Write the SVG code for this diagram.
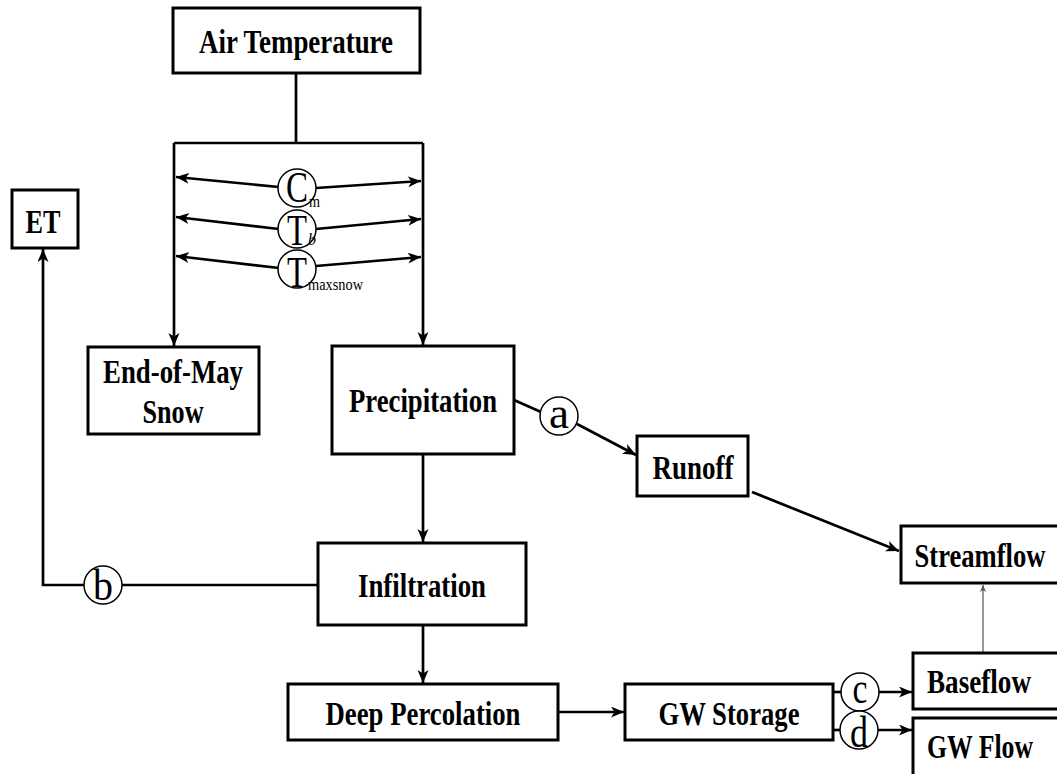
<svg xmlns="http://www.w3.org/2000/svg" width="1057" height="774" viewBox="0 0 1057 774">
<style>
.box{fill:#fff;stroke:#000;stroke-width:3}
.lbl{font-family:"Liberation Serif","Times New Roman",serif;font-weight:bold;font-size:34px;fill:#000;text-anchor:middle}
.ln{fill:none;stroke:#000;stroke-width:2.7}
.arr{marker-end:url(#ah)}
.circ{fill:#fff;stroke:#000;stroke-width:1.5}
.sym{font-family:"Liberation Serif","Times New Roman",serif;font-size:44px;fill:#000;text-anchor:middle}
.sub{font-family:"Liberation Serif","Times New Roman",serif;font-size:16px;fill:#000}
</style>
<defs>
<marker id="ah" markerUnits="userSpaceOnUse" markerWidth="14" markerHeight="12" refX="13" refY="5.5" orient="auto">
<path d="M0,0 L13,5.5 L0,11 L3.5,5.5 z" fill="#000"/>
</marker>
<marker id="ahs" markerUnits="userSpaceOnUse" markerWidth="8" markerHeight="7" refX="7" refY="3" orient="auto">
<path d="M0,0 L7,3 L0,6 L2,3 z" fill="#555"/>
</marker>
</defs>

<g id="connectors">
<path class="ln" d="M296,73 V143 M174,143 H423"/>
<path class="ln arr" d="M174,143 V346"/>
<path class="ln arr" d="M423,143 V345"/>
<path class="ln arr" d="M279,187 L176,177"/>
<path class="ln arr" d="M316,188 L421,181"/>
<path class="ln arr" d="M279,229 L176,217"/>
<path class="ln arr" d="M316,229 L421,219"/>
<path class="ln arr" d="M279,268 L176,256"/>
<path class="ln arr" d="M316,266 L421,257"/>
<path class="ln" d="M514,400 L541,412"/>
<path class="ln arr" d="M577,424 L636,455"/>
<path class="ln arr" d="M752,492 L899,551"/>
<path class="ln arr" d="M423,454 V542"/>
<path class="ln arr" d="M423,625 V683"/>
<path class="ln arr" d="M558,712 H624"/>
<path class="ln arr" d="M84,585 H43 V249"/>
<path class="ln" d="M122,585 H318"/>
<path class="ln" d="M833,692 H841"/>
<path class="ln arr" d="M879,692 H912"/>
<path class="ln" d="M833,730 H840"/>
<path class="ln arr" d="M878,730 H912"/>
<path d="M983,652 V585" fill="none" stroke="#555" stroke-width="1.2" marker-end="url(#ahs)"/>
</g>

<g id="labels">
<circle class="circ" cx="297" cy="188" r="19"/>
<circle class="circ" cx="297" cy="229" r="19"/>
<circle class="circ" cx="297" cy="269" r="19"/>
<text class="sym" x="297" y="202" textLength="22" lengthAdjust="spacingAndGlyphs">C</text>
<text class="sub" x="309" y="207" textLength="11" lengthAdjust="spacingAndGlyphs">m</text>
<text class="sym" x="297" y="245" textLength="20" lengthAdjust="spacingAndGlyphs">T</text>
<text class="sub" x="308" y="245" font-style="italic" textLength="8" lengthAdjust="spacingAndGlyphs">b</text>
<text class="sym" x="297" y="287" textLength="20" lengthAdjust="spacingAndGlyphs">T</text>
<text class="sub" x="308" y="290" textLength="55" lengthAdjust="spacingAndGlyphs">maxsnow</text>
<circle class="circ" cx="559" cy="416" r="19"/>
<text class="sym" x="559" y="428" font-size="48" textLength="20" lengthAdjust="spacingAndGlyphs">a</text>
<circle class="circ" cx="103" cy="585" r="19"/>
<text class="sym" x="103" y="600" textLength="20" lengthAdjust="spacingAndGlyphs">b</text>
<circle class="circ" cx="860" cy="692" r="19"/>
<text class="sym" x="860" y="703" font-size="48" textLength="15" lengthAdjust="spacingAndGlyphs">c</text>
<circle class="circ" cx="859" cy="730" r="19"/>
<text class="sym" x="859" y="747" textLength="18" lengthAdjust="spacingAndGlyphs">d</text>
</g>

<g id="air-temperature">
<rect class="box" x="173" y="8" width="247" height="65"/>
<text class="lbl" x="296" y="53" textLength="194" lengthAdjust="spacingAndGlyphs">Air Temperature</text>
</g>
<g id="et">
<rect class="box" x="12" y="190" width="66" height="58"/>
<text class="lbl" x="43" y="233" textLength="35" lengthAdjust="spacingAndGlyphs">ET</text>
</g>
<g id="end-of-may-snow">
<rect class="box" x="88" y="347" width="171" height="87"/>
<text class="lbl" x="173" y="383" textLength="140" lengthAdjust="spacingAndGlyphs">End-of-May</text>
<text class="lbl" x="173" y="423" textLength="61" lengthAdjust="spacingAndGlyphs">Snow</text>
</g>
<g id="precipitation">
<rect class="box" x="332" y="346" width="182" height="108"/>
<text class="lbl" x="423" y="412" textLength="148" lengthAdjust="spacingAndGlyphs">Precipitation</text>
</g>
<g id="runoff">
<rect class="box" x="637" y="436" width="111" height="60"/>
<text class="lbl" x="693" y="479" textLength="81" lengthAdjust="spacingAndGlyphs">Runoff</text>
</g>
<g id="streamflow">
<rect class="box" x="901" y="526" width="165" height="57"/>
<text class="lbl" x="980" y="567" textLength="131" lengthAdjust="spacingAndGlyphs">Streamflow</text>
</g>
<g id="infiltration">
<rect class="box" x="318" y="543" width="208" height="82"/>
<text class="lbl" x="422" y="597" textLength="128" lengthAdjust="spacingAndGlyphs">Infiltration</text>
</g>
<g id="deep-percolation">
<rect class="box" x="288" y="684" width="270" height="56"/>
<text class="lbl" x="423" y="725" textLength="195" lengthAdjust="spacingAndGlyphs">Deep Percolation</text>
</g>
<g id="gw-storage">
<rect class="box" x="625" y="684" width="208" height="56"/>
<text class="lbl" x="729" y="725" textLength="141" lengthAdjust="spacingAndGlyphs">GW Storage</text>
</g>
<g id="baseflow">
<rect class="box" x="913" y="653" width="153" height="56"/>
<text class="lbl" x="979" y="693" textLength="104" lengthAdjust="spacingAndGlyphs">Baseflow</text>
</g>
<g id="gw-flow">
<rect class="box" x="913" y="718" width="153" height="70"/>
<text class="lbl" x="980" y="758" textLength="106" lengthAdjust="spacingAndGlyphs">GW Flow</text>
</g>
</svg>
